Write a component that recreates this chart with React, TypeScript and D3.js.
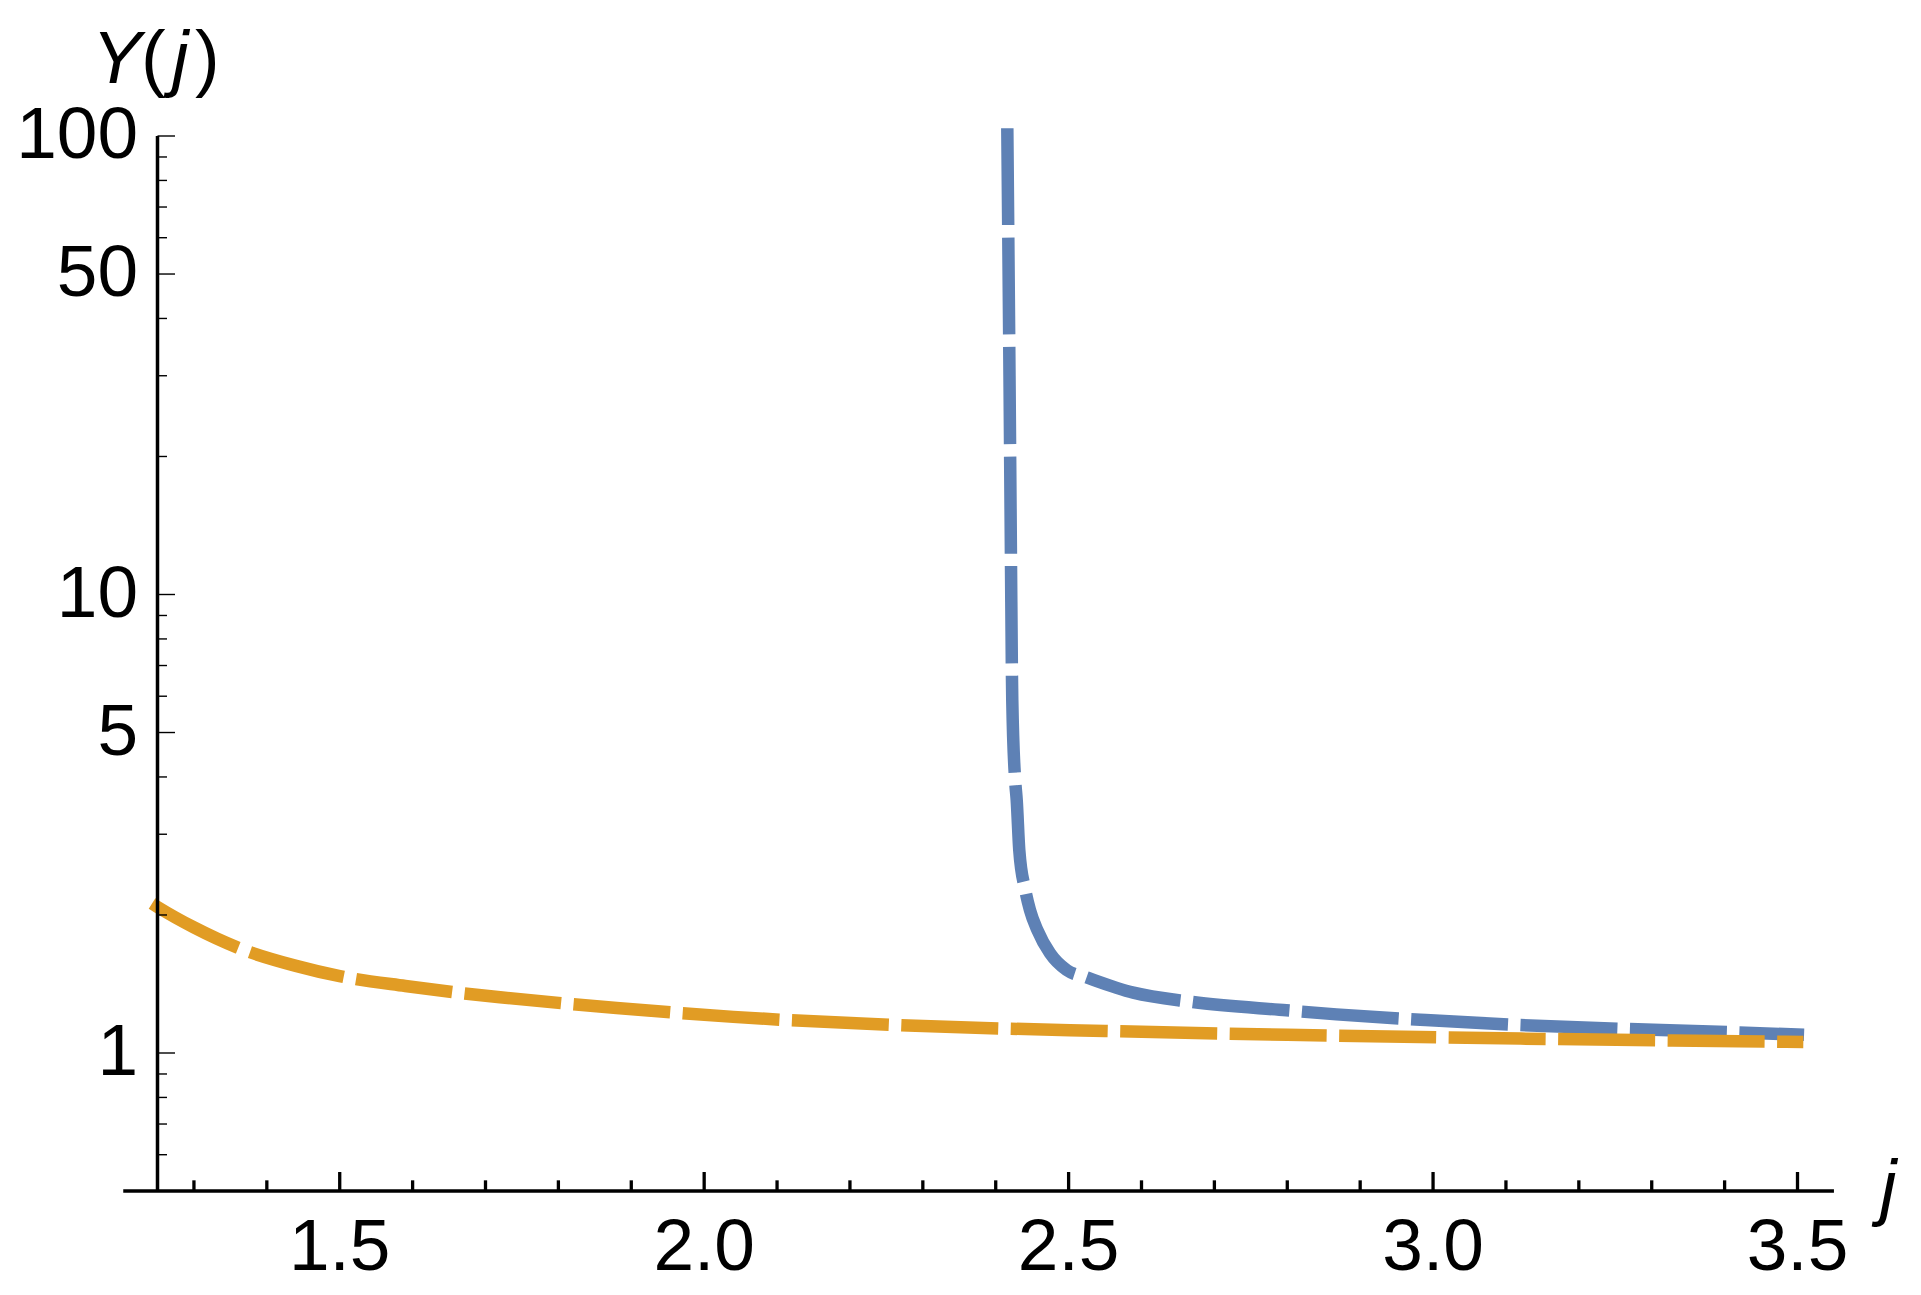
import React from "react";
import * as d3 from "d3";

// blue series: j, Y(j) — near-vertical branch around j ≈ 2.42
const blueJ = [2.4159, 2.4189, 2.4209, 2.4227, 2.4268, 2.4288, 2.4323, 2.4405, 2.447, 2.457, 2.4745, 2.4973, 2.5248, 2.5888, 2.6665, 2.7988, 2.8674, 2.99, 3.1189, 3.4162, 3.509];
const blueY = [104, 30, 12, 5.89, 3.906, 3.56, 2.772, 2.268, 2.05, 1.855, 1.65, 1.517, 1.462, 1.354, 1.294, 1.239, 1.214, 1.18, 1.151, 1.109, 1.096];

// orange series
const orangeJ = [1.2425, 1.25, 1.3, 1.36, 1.44, 1.5, 1.59, 1.66, 1.72, 1.88, 2.04, 2.28, 2.55, 2.8, 3.12, 3.42, 3.508];
const orangeY = [2.118, 2.082, 1.879, 1.698, 1.549, 1.471, 1.4, 1.355, 1.323, 1.254, 1.199, 1.148, 1.117, 1.096, 1.075, 1.061, 1.057];

const xMajor = [1.5, 2.0, 2.5, 3.0, 3.5];
const xMajorLabels = ["1.5", "2.0", "2.5", "3.0", "3.5"];
const xMinor = [1.3, 1.4, 1.6, 1.7, 1.8, 1.9, 2.1, 2.2, 2.3, 2.4, 2.6, 2.7, 2.8, 2.9, 3.1, 3.2, 3.3, 3.4];

const yMajor = [1, 5, 10, 50, 100];
const yMajorLabels = ["1", "5", "10", "50", "100"];
const yMinor = [0.6, 0.7, 0.8, 0.9, 2, 3, 4, 6, 7, 8, 9, 20, 30, 40, 60, 70, 80, 90];

const BLUE = "#5E81B5";
const ORANGE = "#E19C24";
const FONT = "'Liberation Sans', Arial, sans-serif";

export default function App() {
  const W = 1921, H = 1295;
  const x = d3.scaleLinear().domain([1.25, 3.5]).range([157.5, 1797.5]);
  const y = d3.scaleLog().domain([1, 100]).range([1053, 136]);

  const line = d3.line<[number, number]>()
    .x(d => x(d[0]))
    .y(d => y(d[1]))
    .curve(d3.curveMonotoneX);

  const blue = blueJ.map((j, i) => [j, blueY[i]] as [number, number]);
  const orange = orangeJ.map((j, i) => [j, orangeY[i]] as [number, number]);

  const axisY = y(0.5);
  const axisX = x(1.25);

  return (
    <svg width={W} height={H} style={{ position: "absolute", left: 0, top: 0, background: "#fff" }}>
      {/* curves */}
      <path d={line(blue) || ""} fill="none" stroke={BLUE} strokeWidth={12.5} strokeDasharray="97 12.5" strokeLinecap="butt" />
      <path d={line(orange) || ""} fill="none" stroke={ORANGE} strokeWidth={12.5} strokeDasharray="97 12.5" strokeLinecap="butt" />

      {/* x axis */}
      <line x1={x(1.203)} x2={x(3.55)} y1={axisY} y2={axisY} stroke="#000" strokeWidth={3.5} />
      {xMinor.map(t => (
        <line key={"xm" + t} x1={x(t)} x2={x(t)} y1={axisY} y2={axisY - 10.7} stroke="#000" strokeWidth={3.3} />
      ))}
      {xMajor.map((t, i) => (
        <g key={"xM" + t}>
          <line x1={x(t)} x2={x(t)} y1={axisY} y2={axisY - 19} stroke="#000" strokeWidth={3.3} />
          <text x={x(t)} y={1270} textAnchor="middle" fontFamily={FONT} fontSize={73}>{xMajorLabels[i]}</text>
        </g>
      ))}

      {/* y axis */}
      <line x1={axisX} x2={axisX} y1={axisY} y2={y(100)} stroke="#000" strokeWidth={3.5} />
      {yMinor.map(t => (
        <line key={"ym" + t} x1={axisX} x2={axisX + 9.5} y1={y(t)} y2={y(t)} stroke="#000" strokeWidth={1.4} />
      ))}
      {yMajor.map((t, i) => (
        <g key={"yM" + t}>
          <line x1={axisX} x2={axisX + 17.5} y1={y(t)} y2={y(t)} stroke="#000" strokeWidth={1.4} />
          <text x={138} y={y(t) + 22} textAnchor="end" fontFamily={FONT} fontSize={73}>{yMajorLabels[i]}</text>
        </g>
      ))}

      {/* axis labels */}
      <g fontFamily={FONT} fontSize={74}>
        <text x={92} y={83} fontStyle="italic">Y</text>
        <text x={141} y={83}>(</text>
        <text x={172} y={83} fontStyle="italic">j</text>
        <text x={195} y={83}>)</text>
        <text x={1880} y={1212} fontStyle="italic">j</text>
      </g>
    </svg>
  );
}
